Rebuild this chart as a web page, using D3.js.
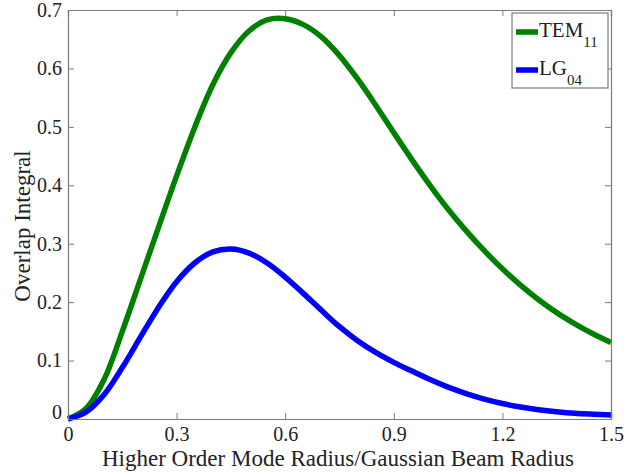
<!DOCTYPE html>
<html>
<head>
<meta charset="utf-8">
<script src="https://cdn.jsdelivr.net/npm/d3@7"></script>
<style>
  html, body { margin: 0; padding: 0; background: #fff; }
  svg { display: block; }
  svg text { font-family: 'Liberation Serif', 'Times New Roman', 'DejaVu Serif', serif !important; fill: #222; }
</style>
</head>
<body>
<svg id="chart" width="624" height="472"></svg>
<script>
const xValues = [0, 0.05, 0.1, 0.15, 0.2, 0.25, 0.3, 0.35, 0.4, 0.45, 0.5, 0.55, 0.6, 0.65, 0.7, 0.75, 0.8, 0.85, 0.9, 0.95, 1.0, 1.05, 1.1, 1.15, 1.2, 1.25, 1.3, 1.35, 1.4, 1.45, 1.5];
const tem11 = [0, 0.018, 0.068, 0.150, 0.239, 0.328, 0.416, 0.499, 0.572, 0.627, 0.664, 0.683, 0.685, 0.675, 0.654, 0.622, 0.582, 0.537, 0.490, 0.444, 0.400, 0.359, 0.322, 0.288, 0.257, 0.229, 0.204, 0.182, 0.163, 0.146, 0.131];
const lg04 = [0, 0.012, 0.042, 0.088, 0.140, 0.191, 0.235, 0.267, 0.286, 0.291, 0.284, 0.267, 0.243, 0.215, 0.186, 0.158, 0.134, 0.114, 0.097, 0.082, 0.0675, 0.0545, 0.0435, 0.034, 0.0265, 0.0205, 0.016, 0.0125, 0.0098, 0.0082, 0.007];
const xTicks = [0, 0.3, 0.6, 0.9, 1.2, 1.5];
const yTicks = [0, 0.1, 0.2, 0.3, 0.4, 0.5, 0.6, 0.7];
const seriesNames = ["TEM", "LG"];
const seriesSubs = ["11", "04"];
const seriesColors = ["#008000", "#0000ff"];
const xTitle = "Higher Order Mode Radius/Gaussian Beam Radius";
const yTitle = "Overlap Integral";

const FONT = "'Liberation Serif', 'Times New Roman', 'DejaVu Serif', serif";
const svg = d3.select("#chart").attr("font-family", FONT);
const L = 68, R = 611, T = 10, B = 419;
const x = d3.scaleLinear().domain([0, 1.5]).range([L, R]);
const y = d3.scaleLinear().domain([0, 0.7]).range([B, T]);
const axisColor = "#7a7a7a";

// curves
const line = d3.line().x(d => x(d[0])).y(d => y(d[1])).curve(d3.curveCatmullRom.alpha(0.5));
const series = [tem11, lg04];
series.forEach((vals, i) => {
  svg.append("path")
    .datum(xValues.map((xv, j) => [xv, vals[j]]))
    .attr("d", line)
    .attr("fill", "none")
    .attr("stroke", seriesColors[i])
    .attr("stroke-width", 5.5)
    .attr("stroke-linejoin", "round");
});

// axes (inward ticks, all four sides)
const tickLen = 6;
const fmt = d => d === 0 ? "0" : d3.format(".1f")(d);
const gx = svg.append("g").attr("transform", `translate(0,${B})`)
  .call(d3.axisBottom(x).tickValues(xTicks).tickSize(-tickLen).tickPadding(8).tickFormat(fmt));
const gxt = svg.append("g").attr("transform", `translate(0,${T})`)
  .call(d3.axisTop(x).tickValues(xTicks).tickSize(-tickLen).tickFormat(""));
const gy = svg.append("g").attr("transform", `translate(${L},0)`)
  .call(d3.axisLeft(y).tickValues(yTicks).tickSize(-tickLen).tickPadding(6).tickFormat(fmt));
const gyr = svg.append("g").attr("transform", `translate(${R},0)`)
  .call(d3.axisRight(y).tickValues(yTicks).tickSize(-tickLen).tickFormat(""));
[gx, gxt, gy, gyr].forEach(g => {
  g.attr("font-family", FONT);
  g.selectAll("path.domain").attr("stroke", axisColor).attr("stroke-width", 1.2);
  g.selectAll(".tick line").attr("stroke", axisColor);
  g.selectAll(".tick text").style("font-family", FONT).attr("font-size", 20).attr("fill", "#222");
});
gx.selectAll(".tick text").attr("dy", "0.68em");
gy.selectAll(".tick text").filter(d => d === 0).attr("dy", "-0.05em");

// titles
svg.append("text").attr("x", 338).attr("y", 466).attr("text-anchor", "middle")
  .style("font-family", FONT).attr("font-size", 23).text(xTitle);
svg.append("text").attr("transform", `translate(30,226) rotate(-90)`).attr("text-anchor", "middle")
  .style("font-family", FONT).attr("font-size", 23).text(yTitle);

// legend
const lg = svg.append("g");
lg.append("rect").attr("x", 512).attr("y", 13).attr("width", 96).attr("height", 75)
  .attr("fill", "#fff").attr("stroke", axisColor).attr("stroke-width", 1.2);
const legY = [32, 70];
seriesNames.forEach((name, i) => {
  lg.append("line").attr("x1", 516).attr("x2", 538).attr("y1", legY[i]).attr("y2", legY[i])
    .attr("stroke", seriesColors[i]).attr("stroke-width", 5.5);
  const t = lg.append("text").attr("x", 539).attr("y", legY[i] + 5).style("font-family", FONT).attr("font-size", 21);
  t.append("tspan").text(name);
  t.append("tspan").attr("dy", 10).attr("font-size", 15).text(seriesSubs[i]);
});
</script>
</body>
</html>
